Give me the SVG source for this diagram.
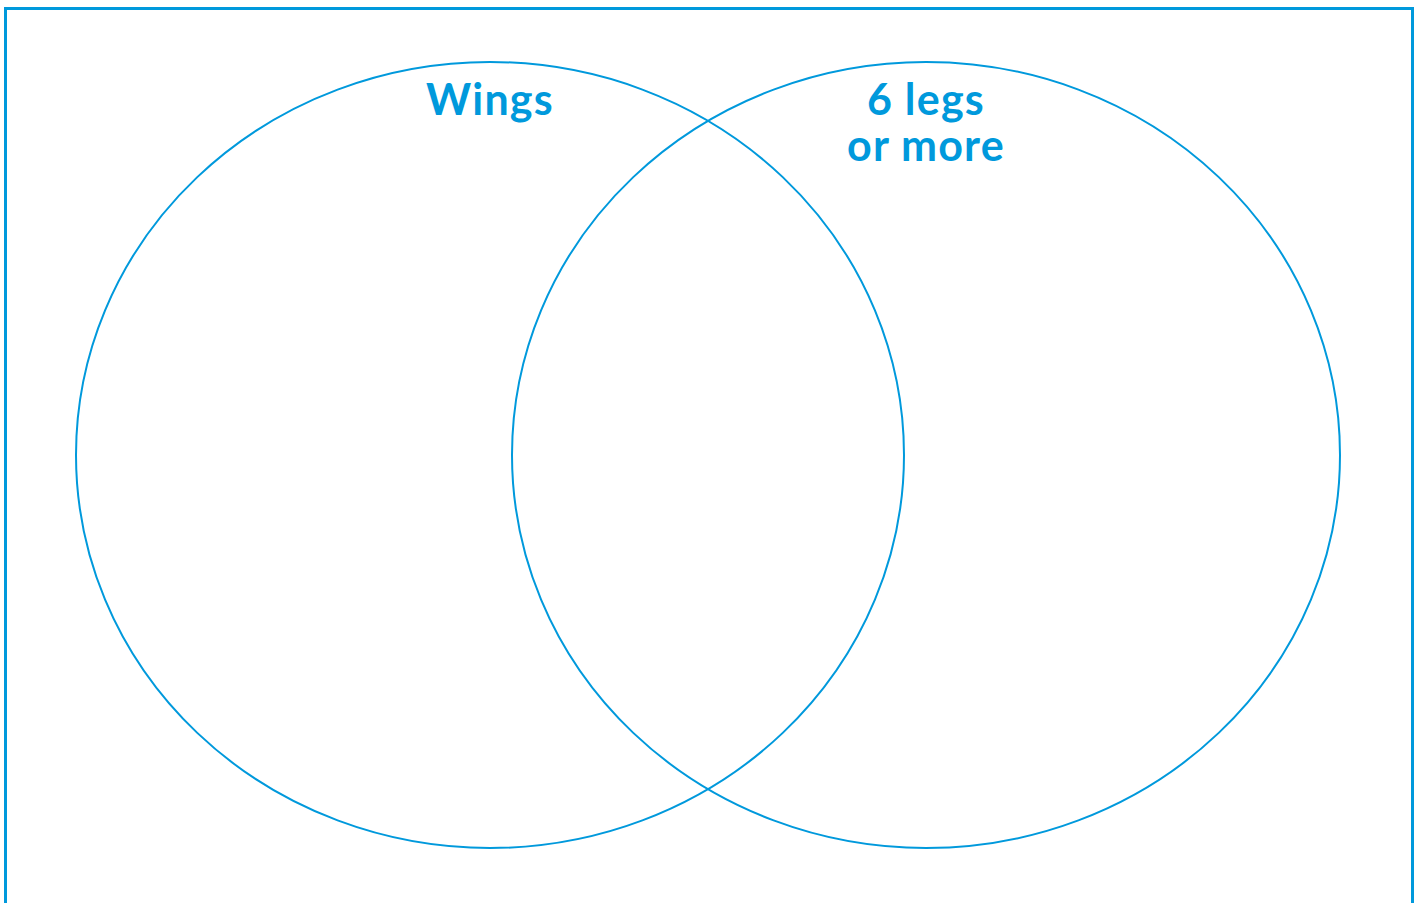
<svg xmlns="http://www.w3.org/2000/svg" width="1422" height="903" viewBox="0 0 1422 903">
<style>
.c{fill:none;stroke:#0099dc;stroke-width:2}
.t{font-family:Lato,"Open Sans",sans-serif;font-weight:700;font-size:43px;letter-spacing:1.2px;fill:#0099dc;text-anchor:middle}
</style>
<rect width="1422" height="903" fill="#fff"/>
<rect x="5.5" y="8.5" width="1407" height="910" fill="none" stroke="#0099dc" stroke-width="3"/>
<g id="wings">
<ellipse class="c" cx="490" cy="455" rx="414" ry="393"/>
<text class="t" x="490" y="115">Wings</text>
</g>
<g id="legs">
<ellipse class="c" cx="926" cy="455" rx="414" ry="393"/>
<text class="t" x="926" y="115">6 legs</text>
<text class="t" x="926" y="161">or more</text>
</g>
<g id="connectors"/>
</svg>
